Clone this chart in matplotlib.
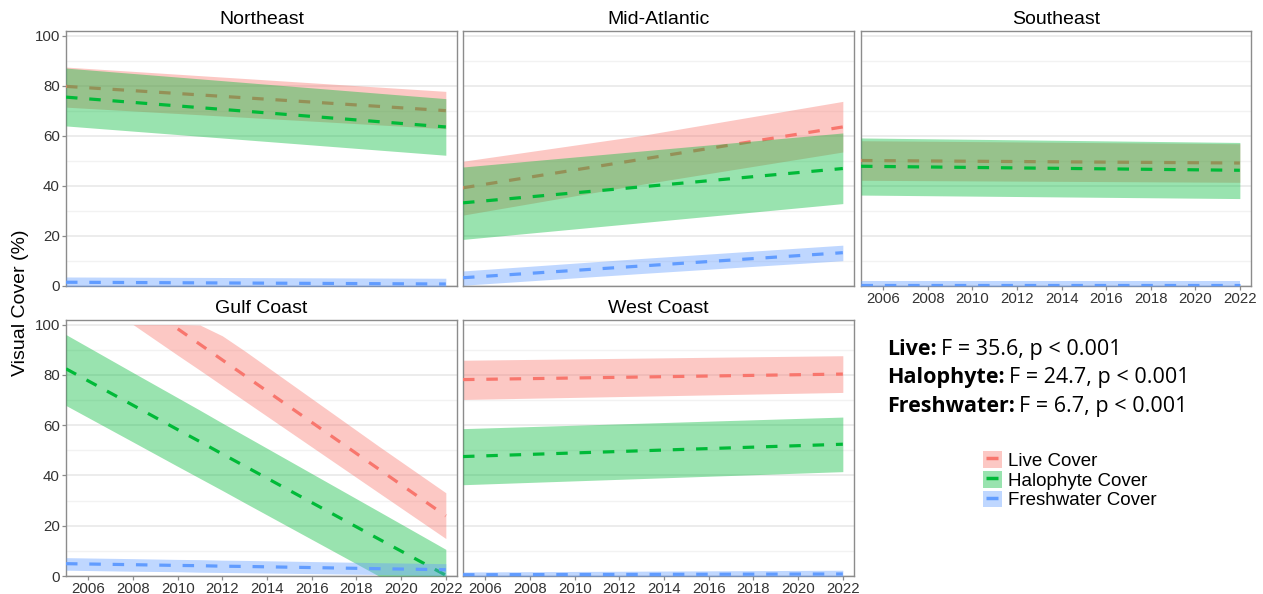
import numpy as np
import matplotlib
matplotlib.use("Agg")
import matplotlib.pyplot as plt
from matplotlib.patches import Patch
from matplotlib.lines import Line2D
from matplotlib.legend_handler import HandlerTuple

# cover types and their colours (ggplot hue palette)
covers = ["Live Cover", "Halophyte Cover", "Freshwater Cover"]
colors = ["#F8766D", "#00BA38", "#619CFF"]

# model fits per region: rows are Live, Halophyte, Freshwater
ne_years = [2005, 2022]
ne_fit = [[79.7, 70.0], [75.4, 63.5], [1.5, 0.8]]
ne_lo = [[71.4, 62.8], [63.9, 52.2], [-0.8, -1.0]]
ne_hi = [[87.4, 77.7], [87.0, 74.8], [3.6, 3.1]]

ma_years = [2005, 2013, 2022]
ma_fit = [[39.2, 50.6, 63.5], [33.2, 39.6, 46.9], [3.3, 8.0, 13.3]]
ma_lo = [[28.3, 40.6, 53.5], [18.6, 25.3, 32.9], [0.3, 5.0, 10.1]]
ma_hi = [[49.8, 60.1, 73.7], [47.5, 53.9, 61.1], [6.0, 11.0, 16.3]]

se_years = [2005, 2022]
se_fit = [[50.1, 49.1], [47.8, 46.2], [0.4, 0.4]]
se_lo = [[42.2, 41.4], [36.3, 34.9], [-0.8, -0.8]]
se_hi = [[58.0, 56.8], [59.1, 57.3], [2.1, 2.1]]

gc_years = [2005, 2008, 2010, 2011, 2012, 2013, 2019, 2022]
gc_fit = [[np.nan, np.nan, 98.3, 92.1, 85.9, 79.7, 42.5, 23.9],
          [82.4, 67.9, 58.2, 53.4, 48.5, 43.7, 14.7, 0.3],
          [4.9, 4.5, 4.2, 4.1, 3.9, 3.8, 2.9, 2.5]]
gc_lo = [[np.nan, 100.0, 87.8, 81.8, 75.7, 69.6, 33.1, 14.9],
         [67.8, 53.3, 43.6, 38.8, 34.0, 29.1, 0.0, 0.0],
         [2.3, 1.9, 1.7, 1.5, 1.4, 1.3, 0.6, 0.2]]
gc_hi = [[np.nan, 100.0, 100.0, 99.8, 95.5, 89.5, 51.6, 33.1],
         [96.0, 80.9, 70.9, 65.9, 60.8, 55.8, 25.7, 10.6],
         [7.3, 6.9, 6.6, 6.5, 6.3, 6.2, 5.3, 4.9]]

wc_years = [2005, 2022]
wc_fit = [[78.1, 80.3], [47.5, 52.4], [0.5, 0.8]]
wc_lo = [[70.2, 73.0], [36.3, 41.5], [-0.8, -0.8]]
wc_hi = [[85.8, 87.6], [58.6, 63.2], [1.6, 2.3]]

regions = ["Northeast", "Mid-Atlantic", "Southeast", "Gulf Coast", "West Coast"]
region_data = [
    (ne_years, ne_fit, ne_lo, ne_hi),
    (ma_years, ma_fit, ma_lo, ma_hi),
    (se_years, se_fit, se_lo, se_hi),
    (gc_years, gc_fit, gc_lo, gc_hi),
    (wc_years, wc_fit, wc_lo, wc_hi),
]

stats_bold = ["Live:", "Halophyte:", "Freshwater:"]
stats_text = ["F = 35.6, p < 0.001", "F = 24.7, p < 0.001", "F = 6.7, p < 0.001"]

W, H = 1263, 594
fig = plt.figure(figsize=(W / 100, H / 100), dpi=100)
plt.rcParams["font.family"] = ["Liberation Sans", "DejaVu Sans"]

# panel boxes in pixels: left, top, right, bottom
boxes = [(66, 31, 457, 286), (463, 31, 854, 286), (861, 31, 1251, 286),
         (66, 320, 457, 576), (463, 320, 854, 576)]
show_x = [False, False, True, True, True]
show_y = [True, False, False, True, False]

for name, (yrs, fit, lo, hi), (l, t, r, b), sx, sy in zip(
        regions, region_data, boxes, show_x, show_y):
    ax = fig.add_axes([l / W, 1 - b / H, (r - l) / W, (b - t) / H])
    x = np.array(yrs, dtype=float)
    for k in range(3):
        ax.fill_between(x, lo[k], hi[k], color=colors[k], alpha=0.4,
                        linewidth=0, zorder=2 + 2 * k)
        ax.plot(x, fit[k], color=colors[k], lw=2.3, dashes=(3.6, 3.7),
                zorder=3 + 2 * k)
    ax.set_xlim(2005, 2022.5)
    ax.set_ylim(0, 101.8)
    ax.set_yticks(range(0, 101, 20))
    ax.set_yticks(range(10, 100, 20), minor=True)
    ax.set_xticks(range(2006, 2023, 2))
    ax.grid(axis="y", which="major", color="#ebebeb", lw=1.3, zorder=0)
    ax.grid(axis="y", which="minor", color="#f2f2f2", lw=1.0, zorder=0)
    ax.set_axisbelow(True)
    for s in ax.spines.values():
        s.set_color("#8c8c8c")
        s.set_linewidth(1.0)
    ax.tick_params(which="minor", left=False, bottom=False)
    ax.tick_params(axis="both", colors="#8c8c8c", labelcolor="#333333",
                   labelsize=10.8, length=3, width=0.9, pad=1.5)
    ax.tick_params(axis="x", bottom=sx, labelbottom=sx)
    ax.tick_params(axis="y", left=sy, labelleft=sy)
    ax.set_title(name, fontsize=14, pad=5)

fig.text(21 / W, 1 - 303 / H, "Visual Cover (%)", rotation=90,
         fontsize=14, ha="center", va="center")

# ANOVA summary, bold label followed by regular text
fig.canvas.draw()
renderer = fig.canvas.get_renderer()
for i, (bt, rt) in enumerate(zip(stats_bold, stats_text)):
    yb = 1 - (355 + 28.5 * i) / H
    t1 = fig.text(887 / W, yb, bt, fontsize=15.5, fontweight="bold",
                  family="Open Sans", va="baseline")
    ext = t1.get_window_extent(renderer)
    fig.text(ext.x1 / W + 4 / W, yb, rt, fontsize=15.5, family="Open Sans",
             va="baseline")

handles = [(Patch(facecolor=c, alpha=0.4, edgecolor="none"),
            Line2D([], [], color=c, marker="_", markersize=9,
                   markeredgewidth=2.5, linestyle="None")) for c in colors]
fig.legend(handles, covers, loc="upper left",
           bbox_to_anchor=(983 / W, 1 - 451 / H), frameon=False,
           fontsize=13.5, handlelength=1.0, handleheight=1.0,
           labelspacing=0.05, handletextpad=0.35, borderpad=0,
           borderaxespad=0, handler_map={tuple: HandlerTuple(ndivide=1, pad=0)})

fig.savefig("out.png", dpi=100)
